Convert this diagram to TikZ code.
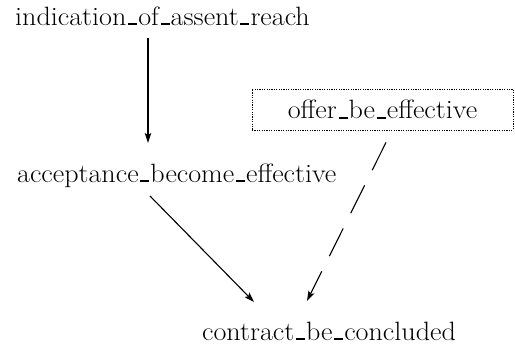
\documentclass[tikz,border=0pt]{standalone}
\usepackage{graphicx}
\usetikzlibrary{arrows.meta}
\newcommand\myus{\kern.06em\vbox{\hrule width.32em height.06em}\kern.04em}
\newcommand\wide[1]{\scalebox{1.06}[1]{#1}}
\begin{document}
\begin{tikzpicture}[x=1pt,y=-1pt,
  lbl/.style={inner sep=0pt,anchor=base west,font=\fontsize{26.5}{30}\selectfont},
  boxlbl/.style={draw,line width=0.9pt,dash pattern=on 1.2pt off 1.2pt,inner sep=0pt,
    minimum width=261pt,minimum height=41pt,font=\fontsize{26.5}{30}\selectfont},
  arr/.style={line width=1.1pt,-{Stealth[length=10pt,width=6.5pt,inset=2pt]}},
  darr/.style={arr,dash pattern=on 31pt off 17pt}]
\useasboundingbox (0,0) rectangle (515,348);
\node[lbl] (ind) at (15,25) {\wide{indication\myus of\myus assent\myus reach}};
\node[lbl] (acc) at (17,182) {\wide{acceptance\myus become\myus effective}};
\node[boxlbl] (off) at (382.5,109.5) {\wide{offer\myus be\myus effective}};
\node[lbl] (con) at (202,340) {\wide{contract\myus be\myus concluded}};
\draw[arr] ([shift={(133,13)}]ind.base west) -- ([shift={(131,-39)}]acc.base west);
\draw[arr] ([shift={(133,14)}]acc.base west) -- ([shift={(52,-38)}]con.base west);
\draw[darr] ([shift={(3.5,12)}]off.south) -- ([shift={(105,-39)}]con.base west);
\end{tikzpicture}
\end{document}
